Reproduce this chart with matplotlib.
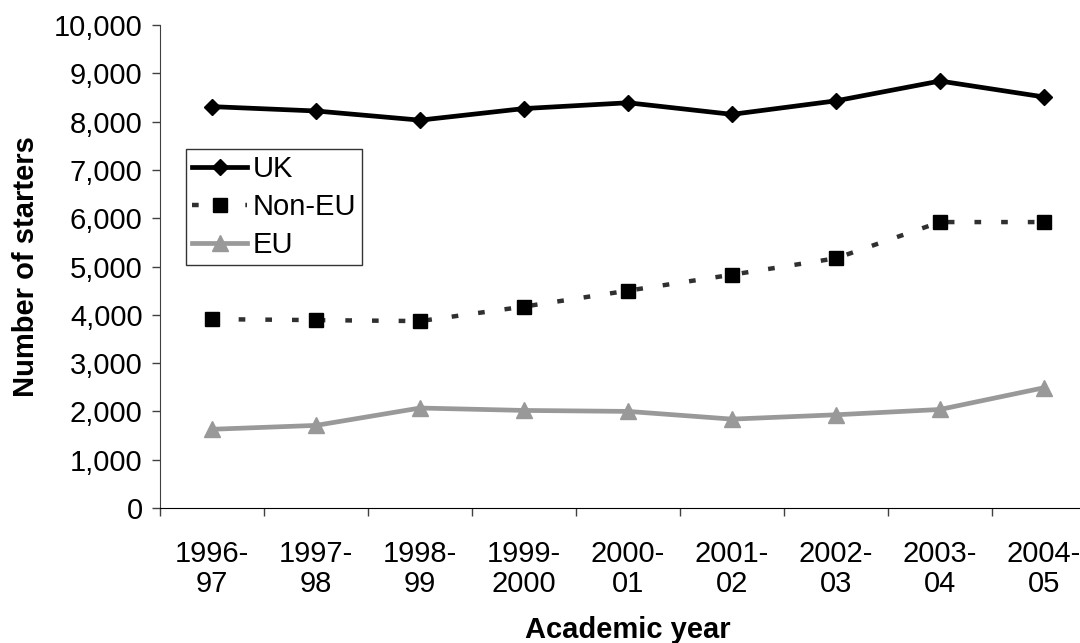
import numpy as np
import matplotlib.pyplot as plt
from matplotlib.ticker import FuncFormatter, MultipleLocator

plt.rcParams['font.family'] = ['Liberation Sans', 'DejaVu Sans']

years = ["1996-\n97", "1997-\n98", "1998-\n99", "1999-\n2000", "2000-\n01",
         "2001-\n02", "2002-\n03", "2003-\n04", "2004-\n05"]

uk = [8310, 8220, 8030, 8270, 8390, 8150, 8430, 8840, 8510]
non_eu = [3910, 3890, 3870, 4170, 4500, 4830, 5170, 5920, 5920]
eu = [1630, 1710, 2070, 2020, 2000, 1840, 1930, 2040, 2490]

x = np.arange(len(years))

fig = plt.figure(figsize=(10.8, 6.43), dpi=100)
ax = fig.add_axes([160/1080, 135/643, 936/1080, 483/643])

ax.plot(x, uk, color="black", lw=3.4, marker="D", ms=8, label="UK")
ax.plot(x, non_eu, color="#303030", lw=3.2, ls=(0, (1.5, 4.5)), marker="s",
        ms=10.5, mfc="black", mec="black", label="Non-EU")
ax.plot(x, eu, color="#999999", lw=3.4, marker="^", ms=12, label="EU")

ax.set_xlim(-0.5, len(years) - 0.5)
ax.set_ylim(0, 10000)

ax.yaxis.set_major_locator(MultipleLocator(1000))
ax.yaxis.set_major_formatter(FuncFormatter(lambda v, p: f"{int(v):,}"))
ax.tick_params(axis="y", direction="out", length=5.5, width=1,
               color="#404040", labelsize=21, pad=7)

ax.set_xticks(x)
ax.set_xticklabels(years, fontsize=21, linespacing=1.1)
ax.set_xticks(np.arange(len(years) + 1) - 0.5, minor=True)
ax.tick_params(axis="x", which="major", length=0, pad=23)
ax.tick_params(axis="x", which="minor", direction="out", length=6, width=1,
               color="#404040")

for s in ["top", "right"]:
    ax.spines[s].set_visible(False)
ax.spines["left"].set_color("#404040")
ax.spines["bottom"].set_color("black")

ax.set_ylabel("Number of starters", fontsize=21, fontweight="bold", labelpad=10)
ax.set_xlabel("Academic year", fontsize=21, fontweight="bold", labelpad=13)

leg = ax.legend(loc="upper left", bbox_to_anchor=(26/936, 359/483),
                fontsize=21, frameon=True, fancybox=False, shadow=False,
                handlelength=1.9, handletextpad=0.2, borderpad=0.2,
                labelspacing=0.35, borderaxespad=0)
leg.get_frame().set_edgecolor("black")
leg.get_frame().set_linewidth(1)

fig.savefig("out.png", dpi=100)
